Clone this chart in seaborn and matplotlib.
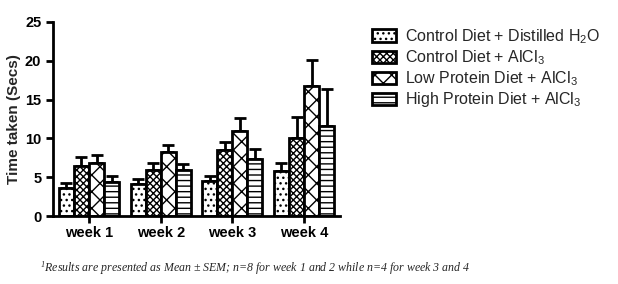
import numpy as np
import pandas as pd
import matplotlib
matplotlib.use('Agg')
import matplotlib.pyplot as plt
import seaborn as sns

weeks = ['week 1', 'week 2', 'week 3', 'week 4']
groups = ['Control Diet + Distilled H$_2$O', 'Control Diet + AlCl$_3$',
          'Low Protein Diet + AlCl$_3$', 'High Protein Diet + AlCl$_3$']
means = {
    groups[0]: [3.6, 4.1, 4.5, 5.8],
    groups[1]: [6.4, 6.0, 8.5, 10.1],
    groups[2]: [6.8, 8.2, 11.0, 16.8],
    groups[3]: [4.4, 5.9, 7.3, 11.6],
}
sems = {
    groups[0]: [0.6, 0.7, 0.6, 1.1],
    groups[1]: [1.2, 0.9, 1.0, 2.7],
    groups[2]: [1.1, 1.0, 1.6, 3.3],
    groups[3]: [0.7, 0.8, 1.4, 4.8],
}
hatches = ['...', 'xxxxx', 'XX', '---']

sns.set_style('white')
plt.rcParams['font.family'] = ['Liberation Sans', 'DejaVu Sans']
plt.rcParams['mathtext.default'] = 'regular'
plt.rcParams['hatch.linewidth'] = 1.0

rows = []
for g in groups:
    for w, m in zip(weeks, means[g]):
        rows.append({'week': w, 'group': g, 'time': m})
df = pd.DataFrame(rows)

fig = plt.figure(figsize=(6.18, 2.84), dpi=100)
ax = fig.add_axes([0.086, 0.239, 0.464, 0.684])

sns.barplot(data=df, x='week', y='time', hue='group', order=weeks, hue_order=groups,
            errorbar=None, width=0.84, color='white', edgecolor='black',
            linewidth=2, legend=False, ax=ax, saturation=1)

# patches come grouped by hue
for i, g in enumerate(groups):
    bars = ax.patches[i * len(weeks):(i + 1) * len(weeks)]
    xs = []
    for b in bars:
        b.set_facecolor('white')
        b.set_hatch(hatches[i])
        xs.append(b.get_x() + b.get_width() / 2)
    ax.errorbar(xs, means[g], yerr=[np.zeros(len(weeks)), sems[g]], fmt='none',
                ecolor='black', elinewidth=2, capsize=4, capthick=2, zorder=0)

ax.set_ylim(0, 25)
ax.set_yticks([0, 5, 10, 15, 20, 25])
ax.set_xlim(-0.5, 3.5)
ax.set_xlabel('')
ax.set_ylabel('Time taken (Secs)', fontsize=11, fontweight='bold', labelpad=3)
sns.despine(ax=ax)
for s in ['left', 'bottom']:
    ax.spines[s].set_linewidth(2)
    ax.spines[s].set_color('black')
ax.tick_params(axis='both', direction='out', length=5, width=2, labelsize=10.5,
               bottom=True, left=True, colors='black')
ax.tick_params(axis='x', pad=2)
for lab in ax.get_xticklabels() + ax.get_yticklabels():
    lab.set_fontweight('bold')

handles = [plt.Rectangle((0, 0), 1, 1, facecolor='white', edgecolor='black',
                         linewidth=2, hatch=h) for h in hatches]
fig.legend(handles, groups, loc='upper left', bbox_to_anchor=(0.578, 0.955),
           frameon=False, fontsize=11.5, handlelength=1.5, handleheight=0.8,
           labelspacing=0.15, handletextpad=0.6)

fig.text(0.065, 0.045, '$^1$Results are presented as Mean \u00b1 SEM; n=8 for week 1 and 2 while n=4 for week 3 and 4',
         fontsize=8.6, style='italic', family=['Liberation Serif', 'DejaVu Serif'])

fig.savefig('out.png', dpi=100)
